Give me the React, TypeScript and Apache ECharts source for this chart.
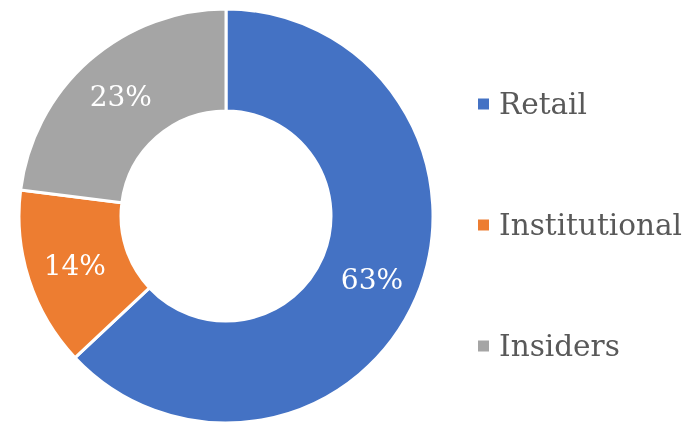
import React, { useEffect, useRef } from "react";
import * as echarts from "echarts";

const categories = ["Retail", "Institutional", "Insiders"];
const values = [63, 14, 23];
const colors = ["#4472C4", "#ED7D31", "#A5A5A5"];

export default function App() {
  const ref = useRef<HTMLDivElement>(null);
  useEffect(() => {
    if (!ref.current) return;
    const chart = echarts.init(ref.current, null, { renderer: "svg" });
    const font = "'DejaVu Serif', 'Liberation Serif', serif";
    chart.setOption({
      animation: false,
      color: colors,
      legend: {
        orient: "vertical",
        left: 471,
        top: 84,
        itemGap: 91,
        itemWidth: 13,
        itemHeight: 13,
        icon: "rect",
        textStyle: {
          fontFamily: font,
          fontSize: 29.5,
          lineHeight: 30,
          color: "#595959",
          padding: [0, 0, 0, 4],
        },
        data: categories,
      },
      series: [
        {
          type: "pie",
          center: [226, 216],
          radius: [105, 207],
          startAngle: 90,
          clockwise: true,
          itemStyle: { borderColor: "#fff", borderWidth: 3 },
          label: {
            position: "inside",
            formatter: "{c}%",
            color: "#fff",
            fontFamily: font,
            fontSize: 28,
          },
          labelLine: { show: false },
          emphasis: { disabled: true },
          data: categories.map((name, i) => ({ name, value: values[i] })),
        },
      ],
    });
    return () => chart.dispose();
  }, []);
  return (
    <div
      ref={ref}
      style={{ position: "fixed", left: 0, top: 0, width: 692, height: 432 }}
    />
  );
}
